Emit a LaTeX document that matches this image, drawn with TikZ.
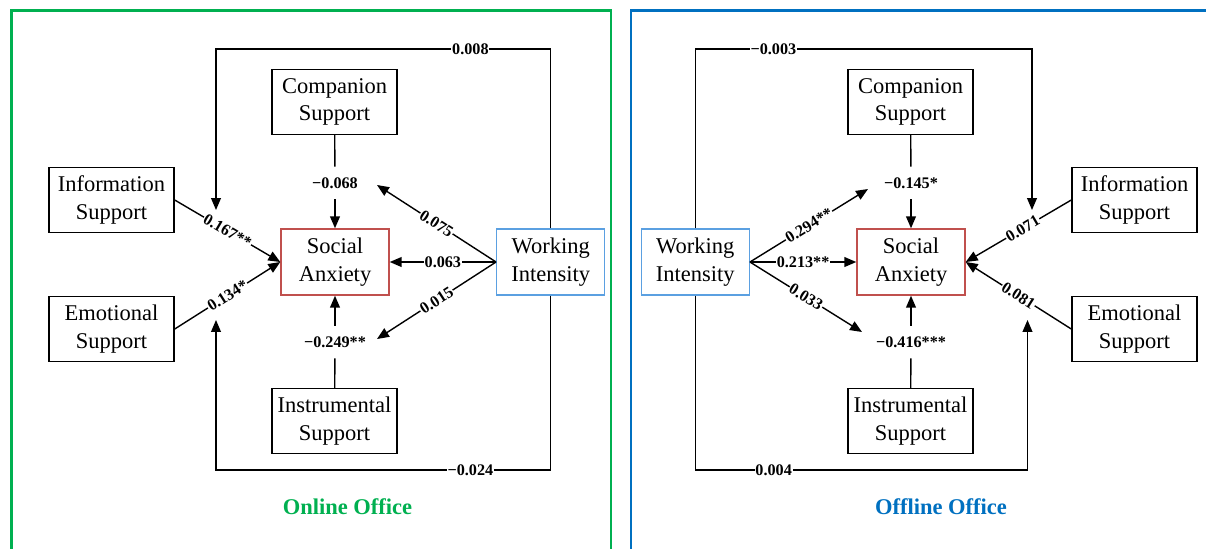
\documentclass[tikz,border=0pt]{standalone}
\usepackage{fontspec}
\setmainfont{Liberation Serif}
\usetikzlibrary{arrows.meta,positioning,calc}
\definecolor{framegreen}{RGB}{0,176,80}
\definecolor{frameblue}{RGB}{0,112,192}
\definecolor{anxred}{RGB}{192,80,77}
\definecolor{workblue}{RGB}{91,160,225}
\tikzset{
  box/.style={rectangle,draw=black,line width=1pt,fill=white,minimum width=3.125cm,
              minimum height=1.625cm,align=center,inner sep=1pt,font=\fontsize{16}{19.5}\selectfont},
  anx/.style={box,draw=anxred,minimum width=2.7cm,minimum height=1.65cm},
  work/.style={box,draw=workblue,minimum width=2.7cm,minimum height=1.65cm},
  coef/.style={fill=white,inner sep=0.6pt,font=\fontsize{11.5}{13}\selectfont\bfseries},
  midcoef/.style={coef,inner xsep=1pt,inner ysep=7.5pt},
  flow/.style={-{Triangle[length=8.5pt,width=7pt]},line width=1pt},
  link/.style={line width=1pt},
  panel/.style={line width=2pt},
  title/.style={font=\fontsize{16}{19}\selectfont\bfseries},
}
\begin{document}
\begin{tikzpicture}[x=0.025cm,y=-0.025cm]
  \useasboundingbox (0,0) rectangle (1206,548);
  \clip (0,0) rectangle (1206,548);
  \draw[panel,framegreen] (11.5,10.5) rectangle (611,570);
  \draw[panel,frameblue] (631,10.5) rectangle (1220,570);

  % online office
  \node[box] (comp1) at (334.5,102) {Companion\\Support};
  \node[box] (info1) at (111.5,200) {Information\\Support};
  \node[box] (emo1) at (111.5,329) {Emotional\\Support};
  \node[anx] (sa1) at (335,262) {Social\\Anxiety};
  \node[work] (wi1) at (550.75,262) {Working\\Intensity};
  \node[box] (inst1) at (334.5,421) {Instrumental\\Support};
  \node[midcoef] (lc1) at (335,183) {−0.068};
  \node[midcoef] (li1) at (335,342) {−0.249**};
  \coordinate (tu1) at (377,185);
  \coordinate (td1) at (377,339);
  \coordinate (tl1) at (216,49);
  \coordinate (ta1) at (216,210);
  \coordinate (bl1) at (216,470);
  \coordinate (ba1) at (216,320);
  \node[title,text=framegreen] (name1) at (347.5,507) {Online Office};

  \draw[link] (comp1) -- (lc1);
  \draw[flow] (lc1) -- (sa1);
  \draw[link] (inst1) -- (li1);
  \draw[flow] (li1) -- (sa1);
  \draw[flow] (info1.east) -- node[coef,sloped]{0.167**} (sa1.west);
  \draw[flow] (emo1.east) -- node[coef,sloped]{0.134*} (sa1.west);
  \draw[flow] (wi1.west) -- node[coef,sloped]{0.075} (tu1);
  \draw[flow] (wi1.west) -- node[coef]{0.063} (sa1.east);
  \draw[flow] (wi1.west) -- node[coef,sloped]{0.015} (td1);
  \draw[flow] (wi1.north) |- node[coef,pos=0.62]{0.008} (tl1) -- (ta1);
  \draw[flow] (wi1.south) |- node[coef,pos=0.62]{−0.024} (bl1) -- (ba1);

  % offline office
  \node[box] (comp2) at (910.5,102) {Companion\\Support};
  \node[box] (info2) at (1134.5,200) {Information\\Support};
  \node[box] (emo2) at (1134.5,329) {Emotional\\Support};
  \node[anx] (sa2) at (911,262) {Social\\Anxiety};
  \node[work] (wi2) at (695.25,262) {Working\\Intensity};
  \node[box] (inst2) at (910.5,421) {Instrumental\\Support};
  \node[midcoef] (lc2) at (911,183) {−0.145*};
  \node[midcoef] (li2) at (911,342) {−0.416***};
  \coordinate (tu2) at (868,189);
  \coordinate (td2) at (862,332);
  \coordinate (tr2) at (1032,49);
  \coordinate (ta2) at (1032,210);
  \coordinate (br2) at (1027.5,470);
  \coordinate (ba2) at (1027.5,320);
  \node[title,text=frameblue] (name2) at (941,507) {Offline Office};

  \draw[link] (comp2) -- (lc2);
  \draw[flow] (lc2) -- (sa2);
  \draw[link] (inst2) -- (li2);
  \draw[flow] (li2) -- (sa2);
  \draw[flow] (wi2.east) -- node[coef,sloped]{0.294**} (tu2);
  \draw[flow] (wi2.east) -- node[coef]{0.213**} (sa2.west);
  \draw[flow] (wi2.east) -- node[coef,sloped]{0.033} (td2);
  \draw[flow] (info2.west) -- node[coef,sloped,pos=0.46]{0.071} (sa2.east);
  \draw[flow] (emo2.west) -- node[coef,sloped]{0.081} (sa2.east);
  \draw[flow] (wi2.north) |- node[coef,pos=0.616]{−0.003} (tr2) -- (ta2);
  \draw[flow] (wi2.south) |- node[coef,pos=0.618]{0.004} (br2) -- (ba2);
\end{tikzpicture}
\end{document}
